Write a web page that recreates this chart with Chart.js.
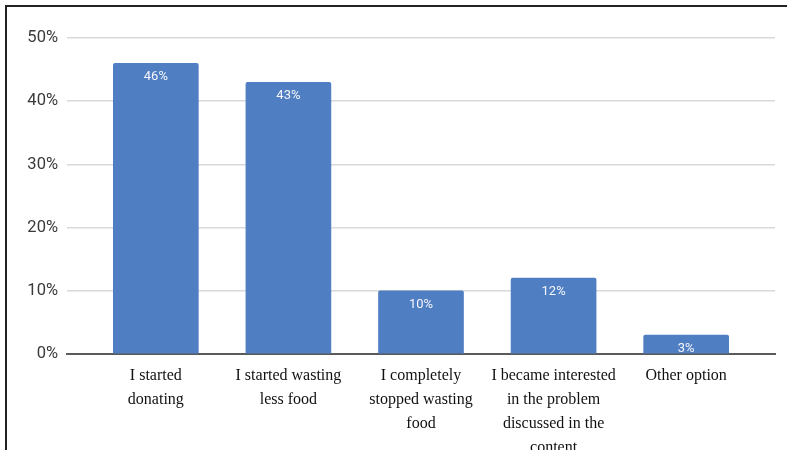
<!DOCTYPE html>
<html>
<head>
<meta charset="utf-8">
<script src="https://cdn.jsdelivr.net/npm/chart.js@4/dist/chart.umd.min.js"></script>
<style>
  html, body { margin: 0; padding: 0; background: #fff; overflow: hidden; }
  #wrap { position: absolute; left: 0; top: 0; width: 787px; height: 450px; }
  #frame {
    position: absolute; left: 5px; top: 5px; width: 800px; height: 460px;
    border-left: 2px solid #222; border-top: 2px solid #222;
    pointer-events: none;
  }
</style>
</head>
<body>
<div id="wrap"><canvas id="chart" width="787" height="450"></canvas></div>
<div id="frame"></div>
<script>
// survey answers and their shares (%)
const categories = [
    ['I started', 'donating'],
    ['I started wasting', 'less food'],
    ['I completely', 'stopped wasting', 'food'],
    ['I became interested', 'in the problem', 'discussed in the', 'content'],
    ['Other option']
];
const shares = [46, 43, 10, 12, 3];
const yTicks = [0, 10, 20, 30, 40, 50];

// white percentage text just under the top of each bar
const barValues = {
    id: 'barValues',
    afterDatasetsDraw(chart) {
        const ctx = chart.ctx;
        const meta = chart.getDatasetMeta(0);
        ctx.save();
        ctx.fillStyle = '#f4f6fb';
        ctx.font = '13px Roboto';
        ctx.textAlign = 'center';
        ctx.textBaseline = 'middle';
        meta.data.forEach((bar, i) => {
            ctx.fillText(shares[i] + '%', bar.x, bar.y + 13.5);
        });
        ctx.restore();
    }
};

const ctx = document.getElementById('chart').getContext('2d');
new Chart(ctx, {
    type: 'bar',
    data: {
        datasets: [{
            data: shares.map((v, i) => ({ x: i, y: v })),
            backgroundColor: '#4f7ec2',
            barThickness: 85,
            borderRadius: 2,
            borderSkipped: 'start'
        }]
    },
    options: {
        responsive: false,
        animation: false,
        layout: { padding: { left: 0, right: 12, top: 38, bottom: 0 } },
        plugins: {
            legend: { display: false },
            tooltip: { enabled: false }
        },
        scales: {
            x: {
                type: 'linear',
                offset: false,
                min: -0.67,
                max: 4.67,
                grid: { display: false, drawTicks: false },
                border: { display: true, color: '#5a5a5a', width: 2 },
                afterBuildTicks: scale => {
                    scale.ticks = categories.map((_, i) => ({ value: i }));
                },
                afterFit: scale => { scale.height = 96; },
                ticks: {
                    padding: 10,
                    maxRotation: 0,
                    autoSkip: false,
                    color: '#111',
                    font: { family: 'Liberation Serif', size: 16, lineHeight: 1.5 },
                    callback: value => categories[value]
                }
            },
            y: {
                min: 0,
                max: 50,
                afterBuildTicks: scale => {
                    scale.ticks = yTicks.map(v => ({ value: v }));
                },
                afterFit: scale => { scale.width = 67; },
                grid: { color: '#d9d9d9', lineWidth: 1.5, drawTicks: false },
                border: { display: false },
                ticks: {
                    padding: 9,
                    color: '#3a3a3a',
                    font: { family: 'Roboto', size: 16.5 },
                    callback: v => v + '%'
                }
            }
        }
    },
    plugins: [barValues]
});
</script>
</body>
</html>
